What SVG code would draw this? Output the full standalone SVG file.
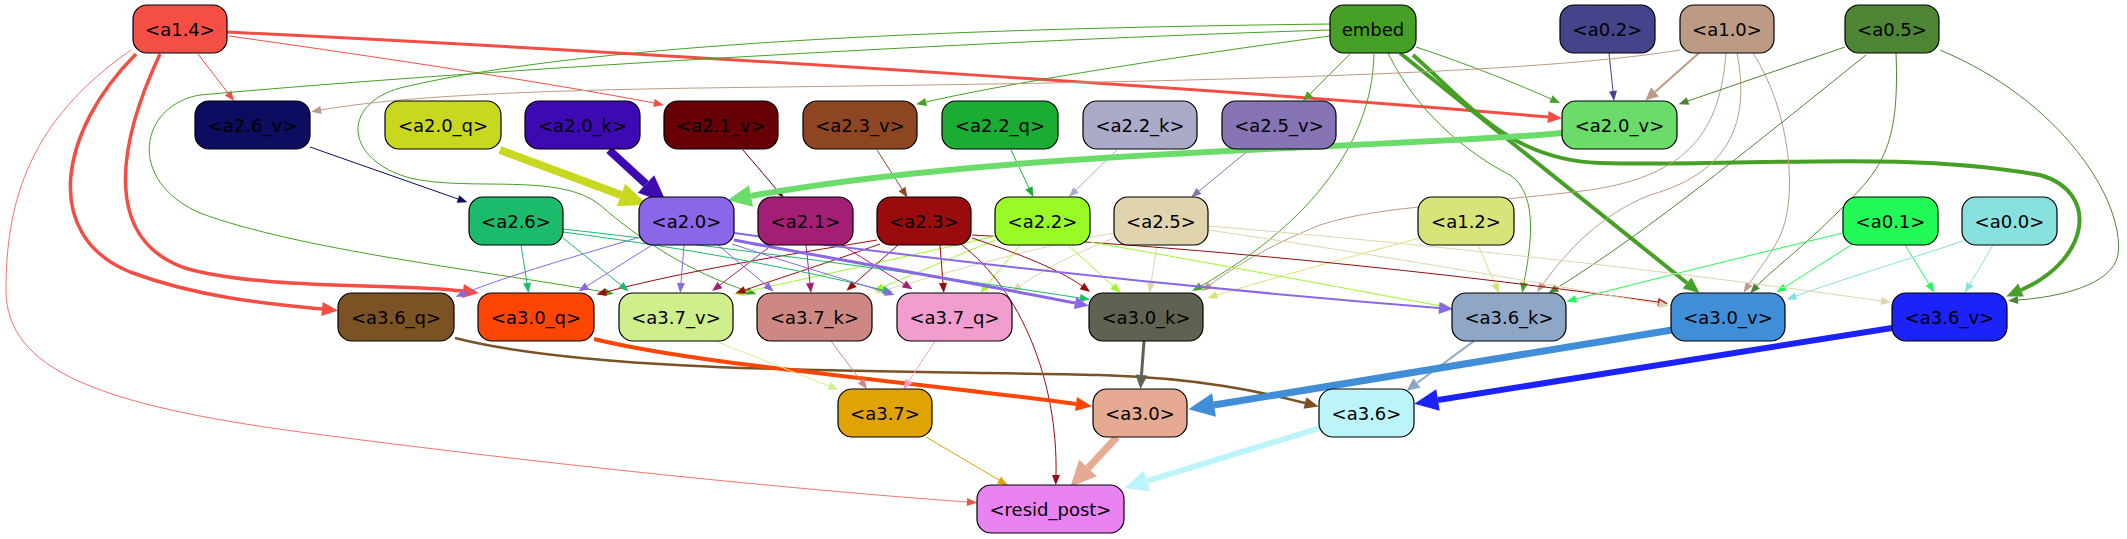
<svg xmlns="http://www.w3.org/2000/svg" width="2127" height="539" viewBox="0 0 2127 539">
<style>
.n rect{stroke:#000;stroke-width:1.2}
.n text{font-family:"DejaVu Sans",sans-serif;font-size:18px;fill:#000;text-anchor:middle}
#edges path{fill:none}
</style>
<defs>
<marker id="t14" markerUnits="userSpaceOnUse" orient="auto" overflow="visible" refX="0" refY="0"><path d="M0,-4L10,0L0,4z" fill="#f44e44"/></marker>
<marker id="m14" markerUnits="userSpaceOnUse" orient="auto" overflow="visible"><path d="M0,-6L14,0L0,6z" fill="#f44e44"/></marker>
<marker id="k14" markerUnits="userSpaceOnUse" orient="auto" overflow="visible"><path d="M0,-7L16,0L0,7z" fill="#f44e44"/></marker>
<marker id="tem" markerUnits="userSpaceOnUse" orient="auto" overflow="visible"><path d="M0,-4L10,0L0,4z" fill="#46a025"/></marker>
<marker id="kem" markerUnits="userSpaceOnUse" orient="auto" overflow="visible"><path d="M0,-7L16,0L0,7z" fill="#46a025"/></marker>
<marker id="t02" markerUnits="userSpaceOnUse" orient="auto" overflow="visible"><path d="M0,-4L10,0L0,4z" fill="#45448a"/></marker>
<marker id="t10" markerUnits="userSpaceOnUse" orient="auto" overflow="visible"><path d="M0,-4L10,0L0,4z" fill="#bd9a84"/></marker>
<marker id="m10" markerUnits="userSpaceOnUse" orient="auto" overflow="visible"><path d="M0,-6L13,0L0,6z" fill="#bd9a84"/></marker>
<marker id="t05" markerUnits="userSpaceOnUse" orient="auto" overflow="visible"><path d="M0,-4L10,0L0,4z" fill="#4e8535"/></marker>
<marker id="t12" markerUnits="userSpaceOnUse" orient="auto" overflow="visible"><path d="M0,-4L10,0L0,4z" fill="#d8e479"/></marker>
<marker id="t01" markerUnits="userSpaceOnUse" orient="auto" overflow="visible"><path d="M0,-4L10,0L0,4z" fill="#21fa57"/></marker>
<marker id="t00" markerUnits="userSpaceOnUse" orient="auto" overflow="visible"><path d="M0,-4L10,0L0,4z" fill="#88e0df"/></marker>
<marker id="t25" markerUnits="userSpaceOnUse" orient="auto" overflow="visible"><path d="M0,-4L10,0L0,4z" fill="#e0d4ae"/></marker>
<marker id="t22" markerUnits="userSpaceOnUse" orient="auto" overflow="visible"><path d="M0,-4L10,0L0,4z" fill="#9afa26"/></marker>
<marker id="t23" markerUnits="userSpaceOnUse" orient="auto" overflow="visible"><path d="M0,-4L10,0L0,4z" fill="#990b0c"/></marker>
<marker id="t21" markerUnits="userSpaceOnUse" orient="auto" overflow="visible"><path d="M0,-4L10,0L0,4z" fill="#a51e75"/></marker>
<marker id="t20" markerUnits="userSpaceOnUse" orient="auto" overflow="visible"><path d="M0,-4L10,0L0,4z" fill="#8a66e8"/></marker>
<marker id="m20" markerUnits="userSpaceOnUse" orient="auto" overflow="visible"><path d="M0,-6L14,0L0,6z" fill="#8a66e8"/></marker>
<marker id="t26" markerUnits="userSpaceOnUse" orient="auto" overflow="visible"><path d="M0,-4L10,0L0,4z" fill="#1cba6b"/></marker>
<marker id="t26v" markerUnits="userSpaceOnUse" orient="auto" overflow="visible"><path d="M0,-4L10,0L0,4z" fill="#0c0c60"/></marker>
<marker id="t21v" markerUnits="userSpaceOnUse" orient="auto" overflow="visible"><path d="M0,-4L10,0L0,4z" fill="#670006"/></marker>
<marker id="t23v" markerUnits="userSpaceOnUse" orient="auto" overflow="visible"><path d="M0,-4L10,0L0,4z" fill="#8e4622"/></marker>
<marker id="t22q" markerUnits="userSpaceOnUse" orient="auto" overflow="visible"><path d="M0,-4L10,0L0,4z" fill="#1bac34"/></marker>
<marker id="t22k" markerUnits="userSpaceOnUse" orient="auto" overflow="visible"><path d="M0,-4L10,0L0,4z" fill="#aaaac9"/></marker>
<marker id="t25v" markerUnits="userSpaceOnUse" orient="auto" overflow="visible"><path d="M0,-4L10,0L0,4z" fill="#8774b4"/></marker>
<marker id="t37v" markerUnits="userSpaceOnUse" orient="auto" overflow="visible"><path d="M0,-4L10,0L0,4z" fill="#cfee8c"/></marker>
<marker id="t37k" markerUnits="userSpaceOnUse" orient="auto" overflow="visible"><path d="M0,-4L10,0L0,4z" fill="#cd8883"/></marker>
<marker id="t37q" markerUnits="userSpaceOnUse" orient="auto" overflow="visible"><path d="M0,-4L10,0L0,4z" fill="#f19ecf"/></marker>
<marker id="t37" markerUnits="userSpaceOnUse" orient="auto" overflow="visible"><path d="M0,-4L10,0L0,4z" fill="#dfa303"/></marker>
<marker id="m36q" markerUnits="userSpaceOnUse" orient="auto" overflow="visible"><path d="M0,-6L14,0L0,6z" fill="#7b5223"/></marker>
<marker id="m30k" markerUnits="userSpaceOnUse" orient="auto" overflow="visible"><path d="M0,-6L14,0L0,6z" fill="#5f6151"/></marker>
<marker id="m36k" markerUnits="userSpaceOnUse" orient="auto" overflow="visible"><path d="M0,-6L13,0L0,6z" fill="#8ea7c6"/></marker>
<marker id="k30q" markerUnits="userSpaceOnUse" orient="auto" overflow="visible"><path d="M0,-7L16,0L0,7z" fill="#fe4604"/></marker>
<marker id="L20q" markerUnits="userSpaceOnUse" orient="auto" overflow="visible"><path d="M0,-12L28,0L0,12z" fill="#c8d81f"/></marker>
<marker id="L20k" markerUnits="userSpaceOnUse" orient="auto" overflow="visible"><path d="M0,-12L28,0L0,12z" fill="#3d0ab2"/></marker>
<marker id="L20v" markerUnits="userSpaceOnUse" orient="auto" overflow="visible"><path d="M0,-11L24,0L0,11z" fill="#6bdc6a"/></marker>
<marker id="L30v" markerUnits="userSpaceOnUse" orient="auto" overflow="visible"><path d="M0,-12L26,0L0,12z" fill="#418ed8"/></marker>
<marker id="L36v" markerUnits="userSpaceOnUse" orient="auto" overflow="visible"><path d="M0,-11L24,0L0,11z" fill="#1b22fa"/></marker>
<marker id="L30" markerUnits="userSpaceOnUse" orient="auto" overflow="visible"><path d="M0,-12L26,0L0,12z" fill="#e5aa91"/></marker>
<marker id="L36" markerUnits="userSpaceOnUse" orient="auto" overflow="visible"><path d="M0,-11L24,0L0,11z" fill="#bcf5f9"/></marker>
</defs>
<g id="edges">
<path d="M227,32 C700,55 1300,95 1548,117" stroke="#f44e44" stroke-width="3" marker-end="url(#m14)"/>
<path d="M198,54 L228,93" stroke="#f44e44" stroke-width="1" marker-end="url(#t14)"/>
<path d="M229,36 C400,60 560,85 654,103" stroke="#f44e44" stroke-width="1" marker-end="url(#t14)"/>
<path d="M136,54 C60,130 40,235 130,272 C200,298 270,304 322,309" stroke="#f44e44" stroke-width="3.5" marker-end="url(#k14)"/>
<path d="M160,54 C115,150 105,240 185,268 C260,290 400,283 463,291" stroke="#f44e44" stroke-width="3.5" marker-end="url(#k14)"/>
<path d="M131,50 C30,120 6,200 6,290 C6,370 100,405 300,432 C550,465 800,490 967,502" stroke="#f44e44" stroke-width="0.8" marker-end="url(#t14)"/>
<path d="M1416,47 C1470,65 1520,85 1551,99" stroke="#46a025" stroke-width="1" marker-end="url(#tem)"/>
<path d="M1330,36 C1150,60 1000,85 926,102" stroke="#46a025" stroke-width="1" marker-end="url(#tem)"/>
<path d="M1350,54 L1310,94" stroke="#46a025" stroke-width="1" marker-end="url(#tem)"/>
<path d="M1400,53 L1687,283" stroke="#46a025" stroke-width="4" marker-end="url(#kem)"/>
<path d="M1413,55 C1470,105 1510,160 1600,163 C1750,167 1900,150 2040,175 C2100,192 2090,260 2021,290" stroke="#46a025" stroke-width="4" marker-end="url(#kem)"/>
<path d="M1388,53 C1420,120 1480,160 1510,175 C1540,195 1530,250 1524,283" stroke="#46a025" stroke-width="1" marker-end="url(#tem)"/>
<path d="M1374,54 C1372,150 1300,230 1201,286" stroke="#46a025" stroke-width="1" marker-end="url(#tem)"/>
<path d="M1330,30 C1000,40 500,68 200,95 C140,105 125,180 200,213 C300,250 480,270 604,292" stroke="#46a025" stroke-width="1" marker-end="url(#tem)"/>
<path d="M1330,24 C1000,28 600,40 400,88 C340,105 345,160 410,178 C470,192 560,172 600,205 C640,240 690,272 747,291" stroke="#46a025" stroke-width="1" marker-end="url(#tem)"/>
<path d="M1609,53 L1613,91" stroke="#45448a" stroke-width="1" marker-end="url(#t02)"/>
<path d="M1699,53 L1655,92" stroke="#bd9a84" stroke-width="2" marker-end="url(#m10)"/>
<path d="M1680,50 C1500,80 1000,84 700,88 C500,91 390,98 321,110" stroke="#bd9a84" stroke-width="1" marker-end="url(#t10)"/>
<path d="M1726,53 C1720,130 1690,175 1590,190 C1470,205 1380,205 1320,225 C1270,245 1232,268 1210,285" stroke="#bd9a84" stroke-width="1" marker-end="url(#t10)"/>
<path d="M1737,53 C1748,110 1740,170 1650,195 C1600,215 1568,250 1543,284" stroke="#bd9a84" stroke-width="1" marker-end="url(#t10)"/>
<path d="M1753,53 C1790,110 1800,200 1778,240 C1766,262 1754,276 1749,284" stroke="#bd9a84" stroke-width="1" marker-end="url(#t10)"/>
<path d="M1845,47 L1688,101" stroke="#4e8535" stroke-width="1" marker-end="url(#t05)"/>
<path d="M1866,55 C1760,140 1650,230 1557,288" stroke="#4e8535" stroke-width="1" marker-end="url(#t05)"/>
<path d="M1896,53 C1900,150 1880,170 1840,210 C1800,250 1772,270 1757,286" stroke="#4e8535" stroke-width="1" marker-end="url(#t05)"/>
<path d="M1940,50 C2060,100 2125,200 2118,255 C2112,285 2060,297 2018,300" stroke="#4e8535" stroke-width="1" marker-end="url(#t05)"/>
<path d="M1478,245 L1495,284" stroke="#d8e479" stroke-width="1" marker-end="url(#t12)"/>
<path d="M1420,238 C1330,262 1260,282 1217,295" stroke="#d8e479" stroke-width="1" marker-end="url(#t12)"/>
<path d="M1843,233 C1750,255 1650,280 1576,299" stroke="#21fa57" stroke-width="1" marker-end="url(#t01)"/>
<path d="M1851,245 L1785,287" stroke="#21fa57" stroke-width="1" marker-end="url(#t01)"/>
<path d="M1905,245 L1929,284" stroke="#21fa57" stroke-width="1" marker-end="url(#t01)"/>
<path d="M1963,241 C1900,262 1840,280 1796,296" stroke="#88e0df" stroke-width="1" marker-end="url(#t00)"/>
<path d="M1993,245 L1970,284" stroke="#88e0df" stroke-width="1" marker-end="url(#t00)"/>
<path d="M1157,245 L1151,283" stroke="#e0d4ae" stroke-width="1" marker-end="url(#t25)"/>
<path d="M972,235 C1250,250 1500,280 1658,302" stroke="#990b0c" stroke-width="1" marker-end="url(#t23)"/>
<path d="M1208,230 C1400,258 1550,285 1659,304" stroke="#e0d4ae" stroke-width="1" marker-end="url(#t25)"/>
<path d="M1208,226 C1500,250 1750,282 1881,301" stroke="#e0d4ae" stroke-width="1" marker-end="url(#t25)"/>
<path d="M1114,233 C1020,250 940,275 885,290" stroke="#e0d4ae" stroke-width="1" marker-end="url(#t25)"/>
<path d="M1114,238 C1070,255 1040,272 1020,286" stroke="#e0d4ae" stroke-width="1" marker-end="url(#t25)"/>
<path d="M1068,245 L1113,286" stroke="#9afa26" stroke-width="1" marker-end="url(#t22)"/>
<path d="M1090,242 C1250,270 1380,295 1441,306" stroke="#9afa26" stroke-width="1" marker-end="url(#t22)"/>
<path d="M1020,245 L987,285" stroke="#9afa26" stroke-width="1" marker-end="url(#t22)"/>
<path d="M996,240 C950,258 912,275 883,287" stroke="#9afa26" stroke-width="1" marker-end="url(#t22)"/>
<path d="M996,236 C900,258 800,280 744,292" stroke="#9afa26" stroke-width="1" marker-end="url(#t22)"/>
<path d="M940,245 L943,283" stroke="#990b0c" stroke-width="1" marker-end="url(#t23)"/>
<path d="M898,245 L854,284" stroke="#990b0c" stroke-width="1" marker-end="url(#t23)"/>
<path d="M877,240 C780,256 680,272 606,292" stroke="#990b0c" stroke-width="1" marker-end="url(#t23)"/>
<path d="M880,244 C830,262 780,278 745,290" stroke="#990b0c" stroke-width="1" marker-end="url(#t23)"/>
<path d="M972,238 C1020,254 1060,270 1082,286" stroke="#990b0c" stroke-width="1" marker-end="url(#t23)"/>
<path d="M962,245 C1020,290 1058,380 1056,475" stroke="#990b0c" stroke-width="1" marker-end="url(#t23)"/>
<path d="M806,245 L810,283" stroke="#a51e75" stroke-width="1" marker-end="url(#t21)"/>
<path d="M842,245 L904,284" stroke="#a51e75" stroke-width="1" marker-end="url(#t21)"/>
<path d="M772,245 L720,285" stroke="#a51e75" stroke-width="1" marker-end="url(#t21)"/>
<path d="M563,232 C700,250 800,270 883,290" stroke="#1cba6b" stroke-width="1" marker-end="url(#t26)"/>
<path d="M563,229 C750,250 950,278 1080,298" stroke="#1cba6b" stroke-width="1" marker-end="url(#t26)"/>
<path d="M521,245 L527,283" stroke="#1cba6b" stroke-width="1" marker-end="url(#t26)"/>
<path d="M563,238 L621,285" stroke="#1cba6b" stroke-width="1" marker-end="url(#t26)"/>
<path d="M734,233 C900,255 1150,285 1439,308" stroke="#8a66e8" stroke-width="2" marker-end="url(#m20)"/>
<path d="M734,240 C850,262 980,284 1075,303" stroke="#8a66e8" stroke-width="3" marker-end="url(#m20)"/>
<path d="M684,245 L681,283" stroke="#8a66e8" stroke-width="1" marker-end="url(#t20)"/>
<path d="M652,245 L587,286" stroke="#8a66e8" stroke-width="1" marker-end="url(#t20)"/>
<path d="M640,237 C580,255 510,275 465,293" stroke="#8a66e8" stroke-width="1" marker-end="url(#t20)"/>
<path d="M718,245 L766,285" stroke="#8a66e8" stroke-width="1" marker-end="url(#t20)"/>
<path d="M732,244 C780,260 840,278 885,292" stroke="#8a66e8" stroke-width="1" marker-end="url(#t20)"/>
<path d="M310,147 L458,199" stroke="#0c0c60" stroke-width="1" marker-end="url(#t26v)"/>
<path d="M500,150 L621,195" stroke="#c8d81f" stroke-width="8" marker-end="url(#L20q)"/>
<path d="M609,150 L646,184" stroke="#3d0ab2" stroke-width="8" marker-end="url(#L20k)"/>
<path d="M743,150 L777,190" stroke="#670006" stroke-width="1" marker-end="url(#t21v)"/>
<path d="M877,150 L902,189" stroke="#8e4622" stroke-width="1" marker-end="url(#t23v)"/>
<path d="M1011,150 L1029,188" stroke="#1bac34" stroke-width="1" marker-end="url(#t22q)"/>
<path d="M1117,150 L1076,190" stroke="#aaaac9" stroke-width="1" marker-end="url(#t22k)"/>
<path d="M1249,150 L1199,191" stroke="#8774b4" stroke-width="1" marker-end="url(#t25v)"/>
<path d="M1562,133 C1400,148 1000,150 751,196" stroke="#6bdc6a" stroke-width="6" marker-end="url(#L20v)"/>
<path d="M455,338 C600,375 900,370 1100,375 C1200,378 1262,392 1305,403" stroke="#7b5223" stroke-width="2.5" marker-end="url(#m36q)"/>
<path d="M594,339 C700,365 900,380 1076,404" stroke="#fe4604" stroke-width="4" marker-end="url(#k30q)"/>
<path d="M715,341 L829,386" stroke="#cfee8c" stroke-width="1" marker-end="url(#t37v)"/>
<path d="M831,341 L861,381" stroke="#cd8883" stroke-width="1" marker-end="url(#t37k)"/>
<path d="M935,341 L909,381" stroke="#f19ecf" stroke-width="1" marker-end="url(#t37q)"/>
<path d="M1144,341 L1141.5,375" stroke="#5f6151" stroke-width="3" marker-end="url(#m30k)"/>
<path d="M1474,341 L1417,383" stroke="#8ea7c6" stroke-width="2" marker-end="url(#m36k)"/>
<path d="M1672,330 L1214,405" stroke="#418ed8" stroke-width="7" marker-end="url(#L30v)"/>
<path d="M1892,328 L1438,400" stroke="#1b22fa" stroke-width="6" marker-end="url(#L36v)"/>
<path d="M926,437 L999,480" stroke="#dfa303" stroke-width="1" marker-end="url(#t37)"/>
<path d="M1117,437 L1088,468" stroke="#e5aa91" stroke-width="7" marker-end="url(#L30)"/>
<path d="M1320,428 L1147,481" stroke="#bcf5f9" stroke-width="6" marker-end="url(#L36)"/>
</g>
<g id="a1_4" class="n"><rect x="133" y="5" width="94" height="48" rx="14" fill="#f54e44"/><text x="180" y="35.5">&lt;a1.4&gt;</text></g>
<g id="embed" class="n"><rect x="1330" y="5" width="86" height="48" rx="14" fill="#46a025"/><text x="1373" y="35.5">embed</text></g>
<g id="a0_2" class="n"><rect x="1560" y="5" width="95" height="48" rx="14" fill="#45448a"/><text x="1607.5" y="35.5">&lt;a0.2&gt;</text></g>
<g id="a1_0" class="n"><rect x="1680" y="5" width="94" height="48" rx="14" fill="#bd9a84"/><text x="1727" y="35.5">&lt;a1.0&gt;</text></g>
<g id="a0_5" class="n"><rect x="1845" y="5" width="94" height="48" rx="14" fill="#4e8535"/><text x="1892" y="35.5">&lt;a0.5&gt;</text></g>
<g id="a2_6_v" class="n"><rect x="195" y="101" width="115" height="48" rx="14" fill="#0c0c60"/><text x="252.5" y="131.5">&lt;a2.6_v&gt;</text></g>
<g id="a2_0_q" class="n"><rect x="385" y="101" width="116" height="48" rx="14" fill="#c8d81f"/><text x="443" y="131.5">&lt;a2.0_q&gt;</text></g>
<g id="a2_0_k" class="n"><rect x="525" y="101" width="115" height="48" rx="14" fill="#3d0ab2"/><text x="582.5" y="131.5">&lt;a2.0_k&gt;</text></g>
<g id="a2_1_v" class="n"><rect x="664" y="101" width="114" height="48" rx="14" fill="#670006"/><text x="721" y="131.5">&lt;a2.1_v&gt;</text></g>
<g id="a2_3_v" class="n"><rect x="803" y="101" width="114" height="48" rx="14" fill="#8e4622"/><text x="860" y="131.5">&lt;a2.3_v&gt;</text></g>
<g id="a2_2_q" class="n"><rect x="942" y="101" width="116" height="48" rx="14" fill="#1bac34"/><text x="1000" y="131.5">&lt;a2.2_q&gt;</text></g>
<g id="a2_2_k" class="n"><rect x="1083" y="101" width="114" height="48" rx="14" fill="#aaaac9"/><text x="1140" y="131.5">&lt;a2.2_k&gt;</text></g>
<g id="a2_5_v" class="n"><rect x="1222" y="101" width="114" height="48" rx="14" fill="#8774b4"/><text x="1279" y="131.5">&lt;a2.5_v&gt;</text></g>
<g id="a2_0_v" class="n"><rect x="1562" y="101" width="115" height="48" rx="14" fill="#6bdc6a"/><text x="1619.5" y="131.5">&lt;a2.0_v&gt;</text></g>
<g id="a2_6" class="n"><rect x="469" y="197" width="94" height="48" rx="14" fill="#1cba6b"/><text x="516" y="227.5">&lt;a2.6&gt;</text></g>
<g id="a2_0" class="n"><rect x="639" y="197" width="95" height="48" rx="14" fill="#8a66e8"/><text x="686.5" y="227.5">&lt;a2.0&gt;</text></g>
<g id="a2_1" class="n"><rect x="758" y="197" width="95" height="48" rx="14" fill="#a51e75"/><text x="805.5" y="227.5">&lt;a2.1&gt;</text></g>
<g id="a2_3" class="n"><rect x="877" y="197" width="94" height="48" rx="14" fill="#990b0c"/><text x="924" y="227.5">&lt;a2.3&gt;</text></g>
<g id="a2_2" class="n"><rect x="995" y="197" width="95" height="48" rx="14" fill="#9afa26"/><text x="1042.5" y="227.5">&lt;a2.2&gt;</text></g>
<g id="a2_5" class="n"><rect x="1114" y="197" width="94" height="48" rx="14" fill="#e0d4ae"/><text x="1161" y="227.5">&lt;a2.5&gt;</text></g>
<g id="a1_2" class="n"><rect x="1418" y="197" width="96" height="48" rx="14" fill="#d8e479"/><text x="1466" y="227.5">&lt;a1.2&gt;</text></g>
<g id="a0_1" class="n"><rect x="1843" y="197" width="95" height="48" rx="14" fill="#21fa57"/><text x="1890.5" y="227.5">&lt;a0.1&gt;</text></g>
<g id="a0_0" class="n"><rect x="1962" y="197" width="95" height="48" rx="14" fill="#88e0df"/><text x="2009.5" y="227.5">&lt;a0.0&gt;</text></g>
<g id="a3_6_q" class="n"><rect x="338" y="293" width="116" height="48" rx="14" fill="#7b5223"/><text x="396" y="323.5">&lt;a3.6_q&gt;</text></g>
<g id="a3_0_q" class="n"><rect x="478" y="293" width="116" height="48" rx="14" fill="#fe4604"/><text x="536" y="323.5">&lt;a3.0_q&gt;</text></g>
<g id="a3_7_v" class="n"><rect x="619" y="293" width="114" height="48" rx="14" fill="#cfee8c"/><text x="676" y="323.5">&lt;a3.7_v&gt;</text></g>
<g id="a3_7_k" class="n"><rect x="757" y="293" width="115" height="48" rx="14" fill="#cd8883"/><text x="814.5" y="323.5">&lt;a3.7_k&gt;</text></g>
<g id="a3_7_q" class="n"><rect x="897" y="293" width="115" height="48" rx="14" fill="#f19ecf"/><text x="954.5" y="323.5">&lt;a3.7_q&gt;</text></g>
<g id="a3_0_k" class="n"><rect x="1089" y="293" width="114" height="48" rx="14" fill="#5f6151"/><text x="1146" y="323.5">&lt;a3.0_k&gt;</text></g>
<g id="a3_6_k" class="n"><rect x="1452" y="293" width="114" height="48" rx="14" fill="#8ea7c6"/><text x="1509" y="323.5">&lt;a3.6_k&gt;</text></g>
<g id="a3_0_v" class="n"><rect x="1671" y="293" width="114" height="48" rx="14" fill="#418ed8"/><text x="1728" y="323.5">&lt;a3.0_v&gt;</text></g>
<g id="a3_6_v" class="n"><rect x="1892" y="293" width="115" height="48" rx="14" fill="#1b22fa"/><text x="1949.5" y="323.5">&lt;a3.6_v&gt;</text></g>
<g id="a3_7" class="n"><rect x="838" y="389" width="94" height="48" rx="14" fill="#dfa303"/><text x="885" y="419.5">&lt;a3.7&gt;</text></g>
<g id="a3_0" class="n"><rect x="1093" y="389" width="94" height="48" rx="14" fill="#e5aa91"/><text x="1140" y="419.5">&lt;a3.0&gt;</text></g>
<g id="a3_6" class="n"><rect x="1319" y="389" width="95" height="48" rx="14" fill="#bcf5f9"/><text x="1366.5" y="419.5">&lt;a3.6&gt;</text></g>
<g id="resid_post" class="n"><rect x="977" y="485" width="147" height="48" rx="14" fill="#ea83f2"/><text x="1050.5" y="515.5">&lt;resid_post&gt;</text></g>
</svg>
